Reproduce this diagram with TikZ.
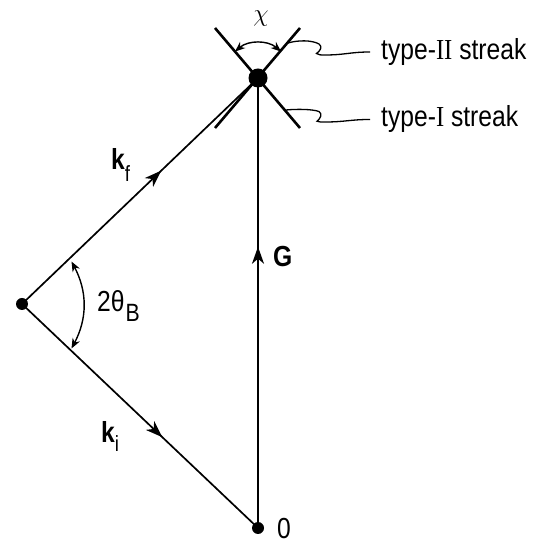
\documentclass[tikz,border=0pt]{standalone}
\usepackage{fontspec}
\setmainfont{Liberation Sans}[FakeStretch=0.85]
\newfontfamily\romfont{Liberation Serif}[FakeStretch=0.85]
\usetikzlibrary{arrows.meta,decorations.markings}
\begin{document}
\begin{tikzpicture}[x=1pt,y=1pt,
  lbl/.style={font=\fontsize{29}{32}\selectfont, inner sep=0pt, anchor=base west},
  dot/.style={circle, fill=black, draw=none, inner sep=0pt, minimum size=#1},
  vec/.style={line width=1.7pt, postaction={decorate},
    decoration={markings, mark=at position #1 with {\arrow{Stealth[length=17pt,width=12pt,inset=5pt]}}}},
  streak/.style={line width=2.6pt},
  angarr/.style={line width=1.4pt, {Stealth[length=10pt,width=8pt,inset=3pt]}-{Stealth[length=10pt,width=8pt,inset=3pt]}},
  lead/.style={line width=1.3pt}
]
\useasboundingbox (0,0) rectangle (541,543);
% points
\node[dot=12pt] (O) at (258,15) {};
\node[dot=19pt] (G) at (258,465) {};
\node[dot=12pt] (P) at (22,239) {};
% streak end points
\coordinate (s1a) at (215,515);
\coordinate (s1b) at (300,415);
\coordinate (s2a) at (300,515);
\coordinate (s2b) at (215,415);
% vectors
\draw[vec=0.59] (P.center) -- (G.center);
\draw[vec=0.595] (P.center) -- (O.center);
\draw[vec=0.625] (O.center) -- (G.center);
% streaks
\draw[streak] (s1a) -- (s1b);
\draw[streak] (s2a) -- (s2b);
% chi arc
\draw[angarr] (G.center) ++(131:35) arc[start angle=131, end angle=49, radius=35];
\node[font=\fontsize{30}{32}\selectfont, inner sep=0pt] (chi) at (261,524) {$\chi$};
% 2theta arc
\coordinate (a1) at (71.5,281.5);
\coordinate (a2) at (71.5,194.5);
\draw[angarr] (a1) to[bend left=28] (a2);
\node[lbl] (th) at (97,231) {2θ\kern1pt\raisebox{-10pt}{\fontsize{25}{25}\selectfont B}};
% leaders
\coordinate (l2s) at (288,500);
\coordinate (l2e) at (370,491);
\draw[lead] (l2s) .. controls (298,503) and (312,503) .. (319,499)
  .. controls (323,496) and (320,492) .. (316.5,489.5)
  .. controls (318,488) and (321,488) .. (325,488)
  .. controls (345,488) and (350,491) .. (l2e);
\coordinate (l1s) at (286,433);
\coordinate (l1e) at (370,423.5);
\draw[lead] (l1s) .. controls (296,434) and (312,434) .. (319,431.5)
  .. controls (323,429) and (320,424) .. (317,421.8)
  .. controls (318.5,421) and (321,421) .. (325,421)
  .. controls (345,421) and (350,423.5) .. (l1e);
% labels
\node[lbl] (t2) at (381,483) {type-{\romfont II} streak};
\node[lbl] (t1) at (381,416) {type-{\romfont I} streak};
\node[lbl] (kf) at (111,373) {\textbf{k}\raisebox{-12pt}{\fontsize{22}{22}\selectfont f}};
\node[lbl] (ki) at (101,100) {\textbf{k}\raisebox{-9pt}{\fontsize{22}{22}\selectfont i}};
\node[lbl] (Gl) at (273,276) {\textbf{G}};
\node[lbl] (zero) at (277,5) {0};
\end{tikzpicture}
\end{document}
